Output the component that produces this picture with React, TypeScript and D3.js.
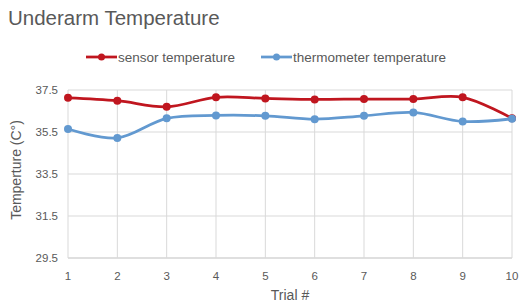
import { useEffect, useRef } from 'react';
import * as d3 from 'd3';

const trials = [1, 2, 3, 4, 5, 6, 7, 8, 9, 10];
const sensorTemp = [37.13, 36.99, 36.7, 37.15, 37.1, 37.05, 37.07, 37.07, 37.15, 36.15];
const thermometerTemp = [35.64, 35.22, 36.15, 36.29, 36.27, 36.11, 36.27, 36.43, 36.0, 36.13];
const yTicks = [29.5, 31.5, 33.5, 35.5, 37.5];

const series = [
  { name: 'sensor temperature', values: sensorTemp, color: '#c0161f' },
  { name: 'thermometer temperature', values: thermometerTemp, color: '#6299d0' },
];

export default function App() {
  const ref = useRef<SVGSVGElement | null>(null);

  useEffect(() => {
    if (!ref.current) return;
    const width = 519;
    const height = 305;
    const svg = d3.select(ref.current);
    svg.selectAll('*').remove();

    const font = 'Helvetica, Arial, "Liberation Sans", sans-serif';

    const x = d3.scaleLinear().domain([1, 10]).range([68, 512]);
    const y = d3.scaleLinear().domain([29.5, 37.5]).range([258, 90]);

    svg.append('rect').attr('width', width).attr('height', height).attr('fill', '#fff');

    svg
      .append('text')
      .attr('x', 8)
      .attr('y', 25)
      .attr('font-family', font)
      .attr('font-size', 20.5)
      .attr('fill', '#595959')
      .text('Underarm Temperature');

    // grid
    svg
      .append('g')
      .selectAll('line')
      .data(yTicks)
      .join('line')
      .attr('x1', x(1))
      .attr('x2', x(10))
      .attr('y1', (d) => y(d))
      .attr('y2', (d) => y(d))
      .attr('stroke', (d) => (d === 29.5 ? '#bfbfbf' : '#d9d9d9'))
      .attr('stroke-width', 1);

    svg
      .append('g')
      .selectAll('line')
      .data(trials)
      .join('line')
      .attr('x1', (d) => x(d))
      .attr('x2', (d) => x(d))
      .attr('y1', y(37.5))
      .attr('y2', y(29.5))
      .attr('stroke', '#d9d9d9')
      .attr('stroke-width', 1);

    // y tick labels
    svg
      .append('g')
      .selectAll('text')
      .data(yTicks)
      .join('text')
      .attr('x', 58)
      .attr('y', (d) => y(d) + 4)
      .attr('text-anchor', 'end')
      .attr('font-family', font)
      .attr('font-size', 11.5)
      .attr('fill', '#595959')
      .text((d) => d.toFixed(1));

    // x tick labels
    svg
      .append('g')
      .selectAll('text')
      .data(trials)
      .join('text')
      .attr('x', (d) => x(d))
      .attr('y', 280)
      .attr('text-anchor', 'middle')
      .attr('font-family', font)
      .attr('font-size', 11.5)
      .attr('fill', '#595959')
      .text((d) => String(d));

    svg
      .append('text')
      .attr('x', x(5.5))
      .attr('y', 300)
      .attr('text-anchor', 'middle')
      .attr('font-family', font)
      .attr('font-size', 14)
      .attr('fill', '#595959')
      .text('Trial #');

    svg
      .append('text')
      .attr('transform', `translate(21, 170) rotate(-90)`)
      .attr('text-anchor', 'middle')
      .attr('font-family', font)
      .attr('font-size', 14)
      .attr('fill', '#595959')
      .text('Temperture (C°)');

    const line = d3
      .line<number>()
      .x((_, i) => x(trials[i]))
      .y((d) => y(d))
      .curve(d3.curveCatmullRom.alpha(0.5));

    series.forEach((s) => {
      const g = svg.append('g');
      g.append('path')
        .attr('d', line(s.values))
        .attr('fill', 'none')
        .attr('stroke', s.color)
        .attr('stroke-width', 2.75);
      g.selectAll('circle')
        .data(s.values)
        .join('circle')
        .attr('cx', (_, i) => x(trials[i]))
        .attr('cy', (d) => y(d))
        .attr('r', 4)
        .attr('fill', s.color);
    });

    // legend
    const legendX = [86, 261];
    series.forEach((s, i) => {
      const g = svg.append('g').attr('transform', `translate(${legendX[i]}, 57)`);
      g.append('line')
        .attr('x1', 0)
        .attr('x2', 31)
        .attr('stroke', s.color)
        .attr('stroke-width', 2.75);
      g.append('circle').attr('cx', 15.5).attr('r', 3.5).attr('fill', s.color);
      g.append('text')
        .attr('x', 32)
        .attr('y', 4.5)
        .attr('font-family', font)
        .attr('font-size', 13.5)
        .attr('fill', '#595959')
        .text(s.name);
    });
  }, []);

  return (
    <svg
      ref={ref}
      width={519}
      height={305}
      style={{ position: 'absolute', left: 0, top: 0 }}
    />
  );
}
